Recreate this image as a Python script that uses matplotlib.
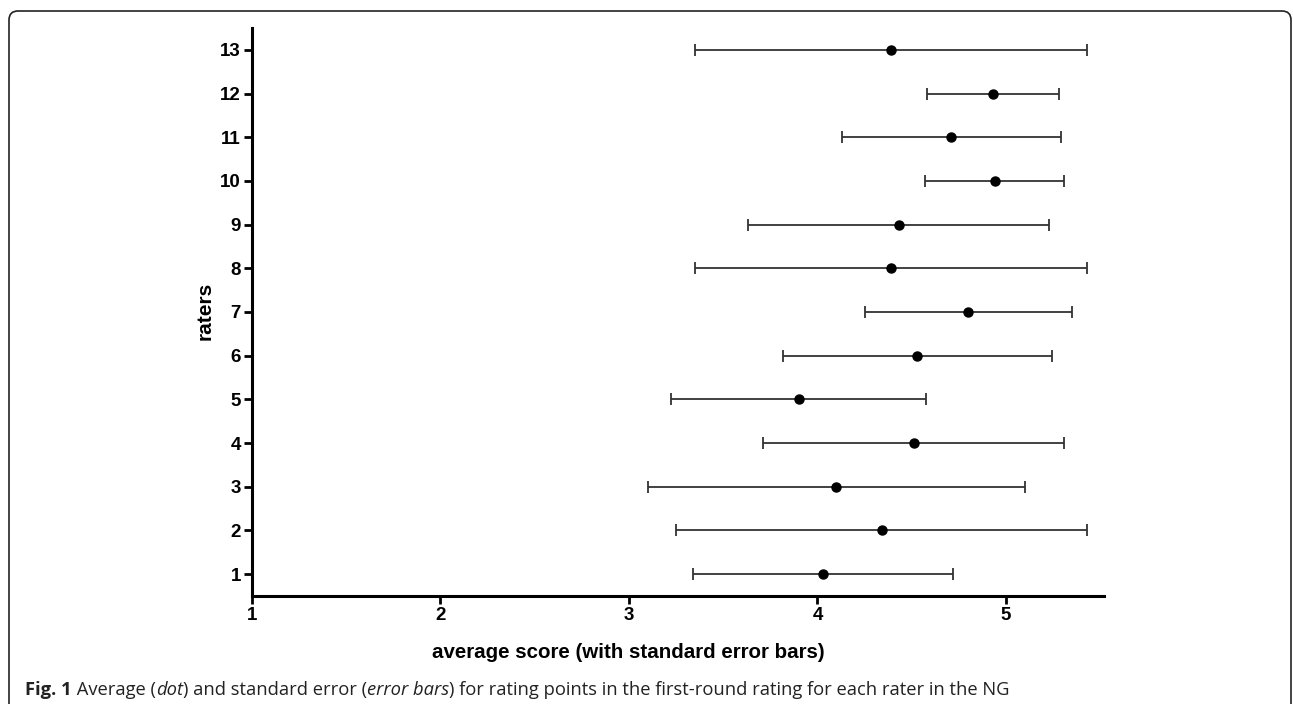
import numpy as np
import matplotlib
matplotlib.use("Agg")
import matplotlib.pyplot as plt
from matplotlib.patches import FancyBboxPatch

# rater id, average score and standard error
raters = np.arange(1, 14)
avg_score = [4.03, 4.34, 4.10, 4.51, 3.90, 4.53, 4.80, 4.39, 4.43, 4.94, 4.71, 4.93, 4.39]
std_err = [0.69, 1.09, 1.00, 0.80, 0.675, 0.715, 0.55, 1.04, 0.80, 0.37, 0.58, 0.35, 1.04]

x_ticks = [1, 2, 3, 4, 5]

caption_parts = [
    ("Fig. 1", "bold", "normal"),
    (" Average (", "normal", "normal"),
    ("dot", "normal", "italic"),
    (") and standard error (", "normal", "normal"),
    ("error bars", "normal", "italic"),
    (") for rating points in the first-round rating for each rater in the NG", "normal", "normal"),
]

W, H = 1293, 704
AX_L, AX_R, AX_T, AX_B = 252, 1104, 28, 596


def frame(fig):
    # rounded box round the figure, open at the bottom edge
    box = FancyBboxPatch((9, -30), 1282, H - 11 + 30,
                         boxstyle="round,pad=0,rounding_size=9",
                         transform=None, fill=False,
                         edgecolor="#222222", linewidth=1.2)
    fig.patches.append(box)


def caption(fig):
    fig.canvas.draw()
    renderer = fig.canvas.get_renderer()
    x = 25
    for txt, weight, style in caption_parts:
        t = fig.text(x / W, 1 - 695 / H, txt, fontsize=13.2, fontweight=weight,
                     fontstyle=style, family="Open Sans", color="#222222",
                     va="baseline", ha="left")
        bb = t.get_window_extent(renderer)
        x += bb.width


def plot():
    fig = plt.figure(figsize=(W / 100, H / 100), dpi=100)
    ax = fig.add_axes([AX_L / W, 1 - AX_B / H, (AX_R - AX_L) / W, (AX_B - AX_T) / H])

    ax.errorbar(avg_score, raters, xerr=std_err, fmt="o", color="black",
                ecolor="#333333", elinewidth=1.3, capsize=4, capthick=1.3,
                markersize=6.5, zorder=3)

    ax.set_xlim(1, 5.52)
    ax.set_ylim(0.5, 13.5)
    ax.set_xticks(x_ticks)
    ax.set_yticks(raters)

    for s in ["top", "right"]:
        ax.spines[s].set_visible(False)
    for s in ["left", "bottom"]:
        ax.spines[s].set_linewidth(2.2)
    ax.tick_params(width=2, length=6, labelsize=13.5, pad=2)
    for lab in ax.get_xticklabels() + ax.get_yticklabels():
        lab.set_fontweight("bold")
        lab.set_family("Liberation Sans")

    ax.set_xlabel("average score (with standard error bars)", fontsize=14.8,
                  fontweight="bold", family="Liberation Sans")
    ax.xaxis.set_label_coords((628 - AX_L) / (AX_R - AX_L), -(653 - AX_B) / (AX_B - AX_T))
    ax.set_ylabel("raters", fontsize=15, fontweight="bold", family="Liberation Sans")
    ax.yaxis.set_label_coords(-(AX_L - 205) / (AX_R - AX_L), (596 - 311) / (AX_B - AX_T))
    ax.xaxis.label.set_va("center")
    ax.yaxis.label.set_va("center")

    frame(fig)
    caption(fig)
    fig.savefig("out.png", dpi=100)
    return


def main():
    plot()
    return


if __name__ == "__main__":
    main()
